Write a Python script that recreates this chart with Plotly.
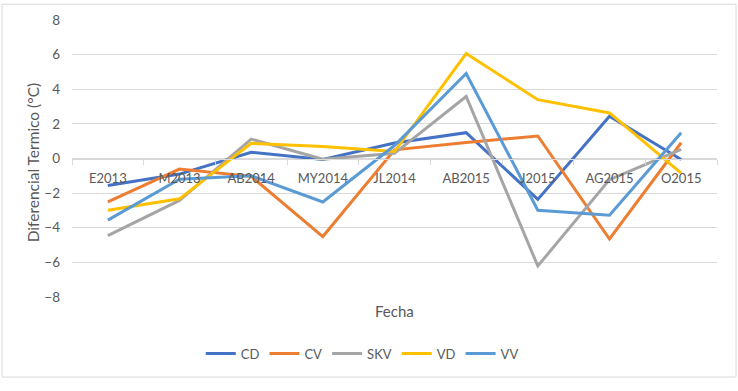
import plotly.graph_objects as go

categories = ["E2013", "M2013", "AB2014", "MY2014", "JL2014", "AB2015", "J2015", "AG2015", "O2015"]
cd = [-1.56, -0.9, 0.36, -0.06, 0.9, 1.49, -2.36, 2.44, -0.06]
cv = [-2.51, -0.61, -1.03, -4.51, 0.5, 0.93, 1.3, -4.65, 0.91]
skv = [-4.46, -2.42, 1.12, -0.04, 0.3, 3.58, -6.21, -1.22, 0.53]
vd = [-2.99, -2.33, 0.88, 0.69, 0.4, 6.06, 3.4, 2.63, -0.84]
vv = [-3.56, -1.2, -1.0, -2.51, 0.75, 4.91, -2.99, -3.28, 1.49]
y_ticks = [-8, -6, -4, -2, 0, 2, 4, 6, 8]

series = [("CD", cd, "#4472C4"), ("CV", cv, "#ED7D31"), ("SKV", skv, "#A5A5A5"),
          ("VD", vd, "#FFC000"), ("VV", vv, "#5B9BD5")]

fig = go.Figure()
for name, vals, color in series:
    fig.add_trace(go.Scatter(x=categories, y=vals, name=name, mode="lines",
                             line=dict(color=color, width=3)))

txt = "#595959"
font = "Lato, 'Open Sans', sans-serif"
fig.update_layout(
    width=738, height=391,
    margin=dict(l=72, r=21, t=17, b=94),
    paper_bgcolor="white", plot_bgcolor="white",
    font=dict(family=font, size=13, color=txt),
    showlegend=True,
    legend=dict(orientation="h", x=0.45, xanchor="center", y=-0.204, yanchor="middle",
                font=dict(size=13, color=txt), itemwidth=30, tracegroupgap=0),
    xaxis=dict(type="category", range=[-0.5, 8.5], anchor="free", position=0.5,
               showline=True, linecolor="#d9d9d9", linewidth=1,
               ticks="outside", tickson="boundaries", ticklen=5, tickcolor="#d9d9d9",
               ticklabelstandoff=8, automargin=False,
               showgrid=False, tickfont=dict(size=13, color=txt)),
    yaxis=dict(range=[-8, 8], tickvals=y_ticks, showgrid=True, gridcolor="#d9d9d9",
               gridwidth=1, zeroline=False, showline=False, anchor="free", position=0,
               ticks="", ticklabelstandoff=12,
               tickfont=dict(size=13.5, color=txt)),
    annotations=[
        dict(text="Fecha", xref="paper", yref="paper", x=0.5, y=-0.05,
             showarrow=False, font=dict(size=15, color=txt), xanchor="center", yanchor="middle"),
        dict(text="Diferencial Termico (°C)", xref="paper", yref="paper", x=-0.061, y=0.485,
             showarrow=False, textangle=-90, font=dict(size=15.5, color=txt),
             xanchor="center", yanchor="middle"),
    ],
    shapes=[dict(type="rect", xref="paper", yref="paper", x0=-0.1085, x1=1.0295,
                 y0=-0.289, y1=1.057, line=dict(color="#d9d9d9", width=1), layer="below")],
)

fig.write_html("out.html", post_script="document.body.style.margin='0';",
               config={"displayModeBar": False})
